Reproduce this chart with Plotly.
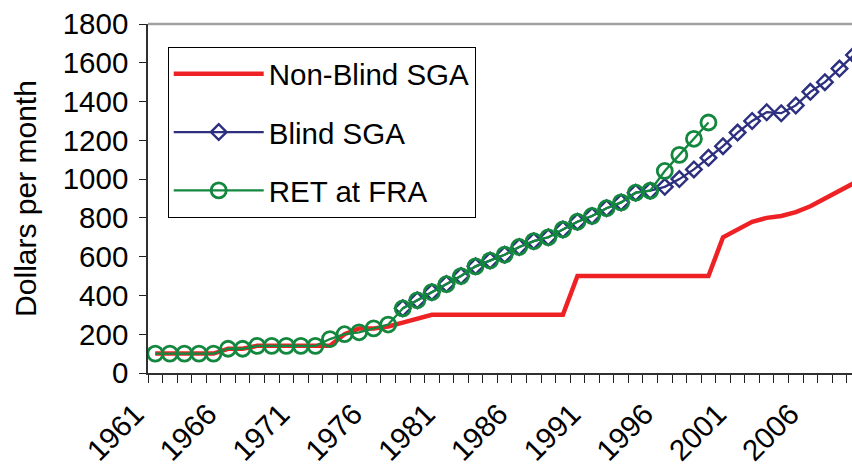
import plotly.graph_objects as go

years = list(range(1961, 2010))

non_blind_sga = [100, 100, 100, 100, 100, 125, 125, 140, 140, 140,
                 140, 140, 140, 200, 230, 230, 240, 260, 280, 300,
                 300, 300, 300, 300, 300, 300, 300, 300, 300, 500,
                 500, 500, 500, 500, 500, 500, 500, 500, 500, 700,
                 740, 780, 800, 810, 830, 860, 900, 940, 980]

blind_sga = [None, None, None, None, None, None, None, None, None, None,
             None, None, None, None, None, None, None, 334, 375, 417,
             459, 500, 550, 580, 610, 650, 680, 700, 740, 780,
             810, 850, 880, 930, 940, 960, 1000, 1050, 1110, 1170,
             1240, 1300, 1345, 1340, 1380, 1450, 1500, 1570, 1640]

ret_fra = [100, 100, 100, 100, 100, 125, 125, 140, 140, 140,
           140, 140, 175, 200, 210, 230, 250, 333, 375, 417,
           458, 500, 550, 580, 610, 650, 680, 700, 740, 780,
           810, 850, 880, 930, 940, 1042, 1125, 1208, 1292, None,
           None, None, None, None, None, None, None, None, None]

tick_years = [1961, 1966, 1971, 1976, 1981, 1986, 1991, 1996, 2001, 2006]
tick_text = [str(y) for y in tick_years]
y_ticks = list(range(0, 1801, 200))

FONT = "Liberation Sans, Arial, sans-serif"
RED = "#EE2224"
NAVY = "#2D2F7F"
GREEN = "#14873F"

fig = go.Figure()
fig.add_trace(go.Scatter(
    x=years, y=non_blind_sga, name="Non-Blind SGA", mode="lines",
    line=dict(color=RED, width=4.5), legendgroup="a"))
fig.add_trace(go.Scatter(
    x=years, y=blind_sga, name="Blind SGA", mode="lines+markers",
    line=dict(color=NAVY, width=2.3),
    marker=dict(symbol="diamond-open", size=12, color=NAVY, line=dict(width=2.4, color=NAVY)),
    legendgroup="b"))
fig.add_trace(go.Scatter(
    x=years, y=ret_fra, name="RET at FRA", mode="lines+markers",
    line=dict(color=GREEN, width=2.3),
    marker=dict(symbol="circle-open", size=15, color=GREEN, line=dict(width=2.8, color=GREEN)),
    legendgroup="c"))

fig.update_layout(
    width=852, height=468,
    margin=dict(l=148, r=0, t=24, b=95, autoexpand=False),
    paper_bgcolor="white", plot_bgcolor="white",
    font=dict(family=FONT, size=29.5, color="black"),
    showlegend=True,
    legend=dict(
        x=0.028, y=0.934, xanchor="left", yanchor="top",
        bordercolor="black", borderwidth=1, bgcolor="white",
        font=dict(family=FONT, size=29.5, color="black"),
        tracegroupgap=17, itemwidth=90, traceorder="grouped"),
    xaxis=dict(
        range=[1960.5, 2008.86], showgrid=False, zeroline=False,
        tickmode="array", tickvals=tick_years, ticktext=tick_text,
        ticks="", tickangle=-45, ticklabelstandoff=10, ticklabelshift=-20,
        ticklabeloverflow="allow",
        tickfont=dict(family=FONT, size=29.5, color="black"),
        showline=True, linecolor="#303030", linewidth=2,
        minor=dict(tickmode="linear", tick0=1960.5, dtick=1, ticks="outside",
                   ticklen=8, tickwidth=1.3, tickcolor="#202020", showgrid=False),
        automargin=False),
    yaxis=dict(
        range=[0, 1800], showgrid=False, zeroline=False,
        tickmode="array", tickvals=y_ticks,
        ticks="outside", ticklen=7, tickwidth=1.3, tickcolor="#202020",
        ticklabelstandoff=5, ticklabeloverflow="allow",
        tickfont=dict(family=FONT, size=29.5, color="black"),
        showline=True, linecolor="#303030", linewidth=1.6,
        title=dict(text="Dollars per month", font=dict(family=FONT, size=30, color="black"), standoff=17),
        automargin=False),
    shapes=[dict(type="line", xref="paper", yref="paper", x0=0, x1=1, y0=1, y1=1,
                 line=dict(color="#A0A0A0", width=2.5))],
)

# remove the default page margin so the 852x468 figure fills the window exactly
fig.write_html(
    "out.html",
    config={"displayModeBar": False},
    post_script="document.body.style.margin='0';document.documentElement.style.overflow='hidden';document.body.style.overflow='hidden';",
)
